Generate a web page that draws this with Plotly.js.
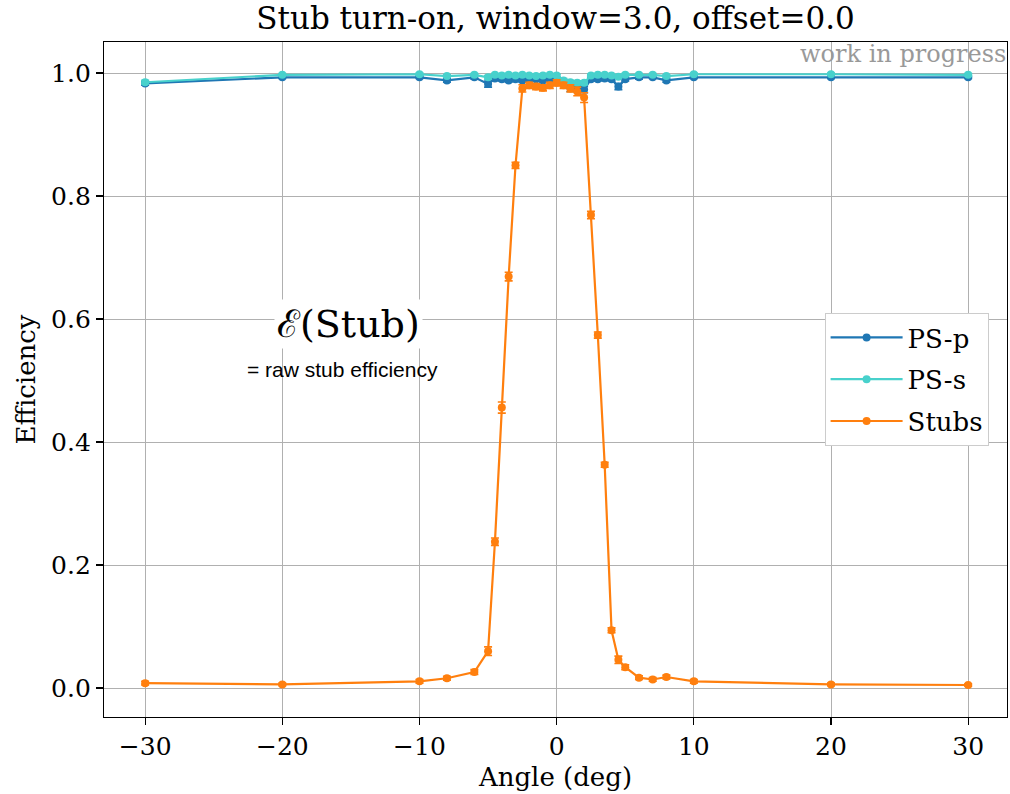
<!DOCTYPE html>
<html>
<head>
<meta charset="utf-8">
<script src="https://cdn.plot.ly/plotly-3.0.1.min.js"></script>
<style>html,body{margin:0;padding:0;background:#fff;}#chart{width:1010px;height:794px;}</style>
</head>
<body>
<div id="chart"></div>
<script>
const angles = [-30, -20, -10, -8, -6, -5, -4.5, -4, -3.5, -3, -2.5, -2, -1.5, -1, -0.5, 0, 0.5, 1, 1.5, 2, 2.5, 3, 3.5, 4, 4.5, 5, 6, 7, 8, 10, 20, 30];

const psP = [0.983, 0.993, 0.993, 0.988, 0.993, 0.982, 0.991, 0.990, 0.988, 0.990, 0.988, 0.989, 0.990, 0.988, 0.990, 0.990, 0.985, 0.976, 0.975, 0.973, 0.990, 0.990, 0.991, 0.990, 0.978, 0.990, 0.993, 0.993, 0.988, 0.993, 0.993, 0.993];
const psPErr = [0.003, 0.002, 0.002, 0.003, 0.003, 0.005, 0.003, 0.003, 0.003, 0.003, 0.003, 0.003, 0.003, 0.003, 0.003, 0.003, 0.004, 0.006, 0.005, 0.005, 0.003, 0.003, 0.003, 0.003, 0.005, 0.003, 0.003, 0.002, 0.003, 0.002, 0.002, 0.002];

const psS = [0.985, 0.997, 0.998, 0.995, 0.997, 0.993, 0.997, 0.996, 0.997, 0.996, 0.997, 0.996, 0.995, 0.996, 0.997, 0.996, 0.988, 0.985, 0.984, 0.984, 0.996, 0.997, 0.997, 0.996, 0.994, 0.997, 0.997, 0.997, 0.995, 0.998, 0.998, 0.997];
const psSErr = [0.003, 0.002, 0.002, 0.002, 0.002, 0.003, 0.002, 0.002, 0.002, 0.002, 0.002, 0.002, 0.002, 0.002, 0.002, 0.002, 0.003, 0.003, 0.003, 0.003, 0.002, 0.002, 0.002, 0.002, 0.002, 0.002, 0.002, 0.002, 0.002, 0.002, 0.002, 0.002];

const stubs = [0.008, 0.006, 0.011, 0.016, 0.026, 0.060, 0.238, 0.456, 0.669, 0.850, 0.975, 0.980, 0.978, 0.976, 0.980, 0.984, 0.980, 0.975, 0.970, 0.960, 0.769, 0.574, 0.363, 0.094, 0.046, 0.034, 0.017, 0.014, 0.018, 0.011, 0.006, 0.005];
const stubsErr = [0.003, 0.002, 0.003, 0.003, 0.004, 0.007, 0.006, 0.009, 0.007, 0.005, 0.006, 0.005, 0.005, 0.005, 0.005, 0.005, 0.005, 0.006, 0.007, 0.008, 0.006, 0.005, 0.004, 0.004, 0.006, 0.004, 0.003, 0.003, 0.003, 0.003, 0.002, 0.002];

const xTicks = [-30, -20, -10, 0, 10, 20, 30];
const yTicks = [0.0, 0.2, 0.4, 0.6, 0.8, 1.0];

const serif = "DejaVu Serif, serif";

function series(name, y, err, color, group) {
  return {
    x: angles, y: y, name: name, type: 'scatter', mode: 'lines+markers',
    legendgroup: group,
    line: {color: color, width: 2.2},
    marker: {color: color, size: 8, symbol: 'circle'},
    error_y: {type: 'data', array: err, visible: true, color: color, thickness: 1.6, width: 4}
  };
}

const data = [
  series('PS-p', psP, psPErr, '#1f77b4', 'a'),
  series('PS-s', psS, psSErr, '#48d1cc', 'b'),
  series('Stubs', stubs, stubsErr, '#ff7f0e', 'c')
];

const axisCommon = {
  showline: true, linecolor: '#000', linewidth: 1.2, mirror: true,
  ticks: 'outside', ticklen: 7, tickwidth: 1.2, tickcolor: '#000',
  showgrid: true, gridcolor: '#b0b0b0', gridwidth: 1,
  zeroline: false,
  tickfont: {family: serif, size: 25, color: '#000'}
};

const layout = {
  width: 1010, height: 794,
  paper_bgcolor: '#fff', plot_bgcolor: '#fff',
  margin: {l: 104, r: 3, t: 42, b: 77},
  title: {text: 'Stub turn-on, window=3.0, offset=0.0', font: {family: serif, size: 31, color: '#000'}, xref: 'paper', x: 0.5, xanchor: 'center', y: 0.977, yanchor: 'middle'},
  xaxis: Object.assign({}, axisCommon, {
    range: [-33, 32.83], tickvals: xTicks, ticktext: xTicks.map(v => v < 0 ? '\u2212' + Math.abs(v) : String(v)),
    title: {text: 'Angle (deg)', font: {family: serif, size: 26, color: '#000'}, standoff: 7}
  }),
  yaxis: Object.assign({}, axisCommon, {
    range: [-0.047, 1.0504], tickvals: yTicks, tickformat: '.1f',
    title: {text: 'Efficiency', font: {family: serif, size: 26, color: '#000'}, standoff: 8}
  }),
  legend: {
    x: 0.798, y: 0.5985, xanchor: 'left', yanchor: 'top',
    bgcolor: '#fff', bordercolor: '#cccccc', borderwidth: 1,
    font: {family: serif, size: 26, color: '#000'},
    tracegroupgap: 5, traceorder: 'grouped', itemwidth: 72
  },
  showlegend: true,
  annotations: [
    {xref: 'x', yref: 'y', x: -15.2, y: 0.592, text: '\u2130(Stub)', showarrow: false,
     font: {family: serif, size: 38, color: '#000'}, bgcolor: '#fff', borderpad: 2},
    {xref: 'x', yref: 'y', x: -15.6, y: 0.518, text: '= raw stub efficiency', showarrow: false,
     font: {family: 'Liberation Sans, Arial, sans-serif', size: 21, color: '#000'}},
    {xref: 'paper', yref: 'paper', x: 1, y: 1.005, xanchor: 'right', yanchor: 'top', text: 'work in progress', showarrow: false,
     font: {family: serif, size: 24, color: '#999'}, borderpad: 0}
  ]
};

Plotly.newPlot('chart', data, layout, {displayModeBar: false, staticPlot: true});
</script>
</body>
</html>
